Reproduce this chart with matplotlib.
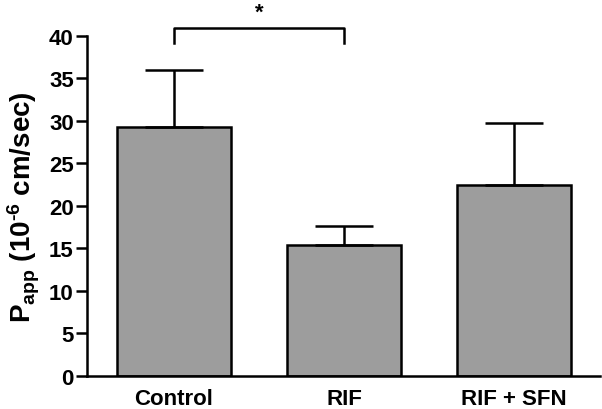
import matplotlib
matplotlib.use("Agg")
import matplotlib.pyplot as plt

categories = ["Control", "RIF", "RIF + SFN"]
means = [29.3, 15.4, 22.5]
errors = [6.7, 2.3, 7.3]
yticks = [0, 5, 10, 15, 20, 25, 30, 35, 40]

plt.rcParams['font.family'] = ['Liberation Sans', 'DejaVu Sans']
plt.rcParams['font.weight'] = 'bold'
plt.rcParams['mathtext.fontset'] = 'custom'
plt.rcParams['mathtext.rm'] = 'Liberation Sans:bold'
plt.rcParams['mathtext.bf'] = 'Liberation Sans:bold'
plt.rcParams['mathtext.it'] = 'Liberation Sans:bold'

fig = plt.figure(figsize=(6.02, 4.10), dpi=100)
ax = fig.add_axes([0.1445, 0.0805, 0.8525, 0.8295])

x = list(range(len(categories)))
ax.bar(x, means, width=0.67, color='#9d9d9d', edgecolor='black', linewidth=1.8, zorder=2)
ax.errorbar(x, means, yerr=[[0]*3, errors], fmt='none', ecolor='black',
            elinewidth=1.8, capsize=21, capthick=1.8, zorder=3)

ax.set_xlim(-0.512, 2.506)
ax.set_ylim(0, 40)
ax.set_yticks(yticks)
ax.set_xticks(x)
ax.set_xticklabels(categories, fontsize=16, fontweight='bold')
ax.tick_params(axis='y', labelsize=16, width=1.8, length=8, pad=1.5)
ax.tick_params(axis='x', length=0, pad=9)
for lbl in ax.get_yticklabels():
    lbl.set_fontweight('bold')
for s in ['top', 'right']:
    ax.spines[s].set_visible(False)
for s in ['left', 'bottom']:
    ax.spines[s].set_linewidth(1.8)

ax.set_ylabel("P$_{\\mathrm{app}}$ (10$^{\\mathrm{\u2010}\\mathrm{6}}$ cm/sec)", fontsize=20, fontweight='bold', labelpad=5)

# significance bracket
yb = 40.9
ax.plot([0, 0, 1, 1], [39.2, yb, yb, 39.2], color='black', lw=1.8, clip_on=False)
ax.text(0.5, 41.6, "*", ha='center', va='bottom', fontsize=16, fontweight='bold')

fig.savefig("out.png", dpi=100)
